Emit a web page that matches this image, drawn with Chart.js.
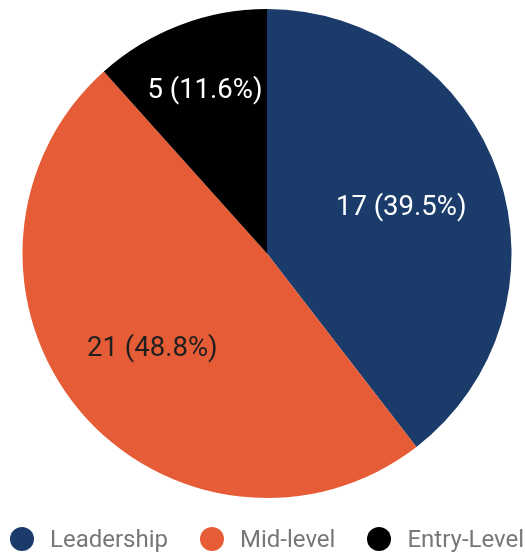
<!DOCTYPE html>
<html>
<head>
<meta charset="utf-8">
<script src="https://cdn.jsdelivr.net/npm/chart.js@4"></script>
<style>
  html, body { margin: 0; padding: 0; background: #fff; }
  #wrap { position: relative; width: 525px; height: 554px; }
  #legend {
    position: absolute; left: 10px; top: 527px; height: 24px;
    display: flex; align-items: center;
    font: 24px Roboto, sans-serif; color: #777;
  }
  #legend .item { display: flex; align-items: center; margin-right: 32px; }
  #legend .item:last-child { margin-right: 0; }
  #legend .dot { width: 24px; height: 24px; border-radius: 50%; margin-right: 16px; }
</style>
</head>
<body>
<div id="wrap">
  <canvas id="pie"></canvas>
  <div id="legend"></div>
</div>
<script>
const levels = ['Leadership', 'Mid-level', 'Entry-Level'];
const counts = [17, 21, 5];
const colors = ['#1b3b6a', '#e65c36', '#000000'];
const labelColors = ['#ffffff', '#1f1f1f', '#ffffff'];
// how far out along the radius each slice label sits
const labelRadius = [0.58, 0.61, 0.71];

// draw "count (pct%)" inside each slice
const sliceLabels = {
    id: 'sliceLabels',
    afterDatasetsDraw(chart) {
        const ctx = chart.ctx;
        const meta = chart.getDatasetMeta(0);
        const data = chart.data.datasets[0].data;
        const total = data.reduce((a, b) => a + b, 0);
        ctx.save();
        ctx.font = '27.5px Roboto';
        ctx.textAlign = 'center';
        ctx.textBaseline = 'middle';
        meta.data.forEach((arc, i) => {
            const mid = (arc.startAngle + arc.endAngle) / 2;
            const r = arc.outerRadius * labelRadius[i];
            const x = arc.x + Math.cos(mid) * r;
            const y = arc.y + Math.sin(mid) * r;
            const pct = (data[i] / total * 100).toFixed(1);
            ctx.fillStyle = labelColors[i];
            ctx.fillText(data[i] + ' (' + pct + '%)', x, y);
        });
        ctx.restore();
    }
};

// legend row under the pie, built from the chart's own labels and colours
const htmlLegend = {
    id: 'htmlLegend',
    afterUpdate(chart) {
        const box = document.getElementById('legend');
        box.innerHTML = '';
        chart.options.plugins.legend.labels.generateLabels(chart).forEach(item => {
            const el = document.createElement('div');
            el.className = 'item';
            const dot = document.createElement('span');
            dot.className = 'dot';
            dot.style.background = item.fillStyle;
            const txt = document.createElement('span');
            txt.textContent = item.text;
            el.appendChild(dot);
            el.appendChild(txt);
            box.appendChild(el);
        });
    }
};

const ctx = document.getElementById('pie').getContext('2d');
new Chart(ctx, {
    type: 'pie',
    data: {
        labels: levels,
        datasets: [{
            data: counts,
            backgroundColor: colors,
            borderWidth: 0
        }]
    },
    options: {
        responsive: true,
        maintainAspectRatio: false,
        animation: false,
        layout: {
            padding: { top: 9, left: 9, right: 0, bottom: 56 }
        },
        plugins: {
            tooltip: { enabled: false },
            legend: { display: false }
        }
    },
    plugins: [sliceLabels, htmlLegend]
});
</script>
</body>
</html>
